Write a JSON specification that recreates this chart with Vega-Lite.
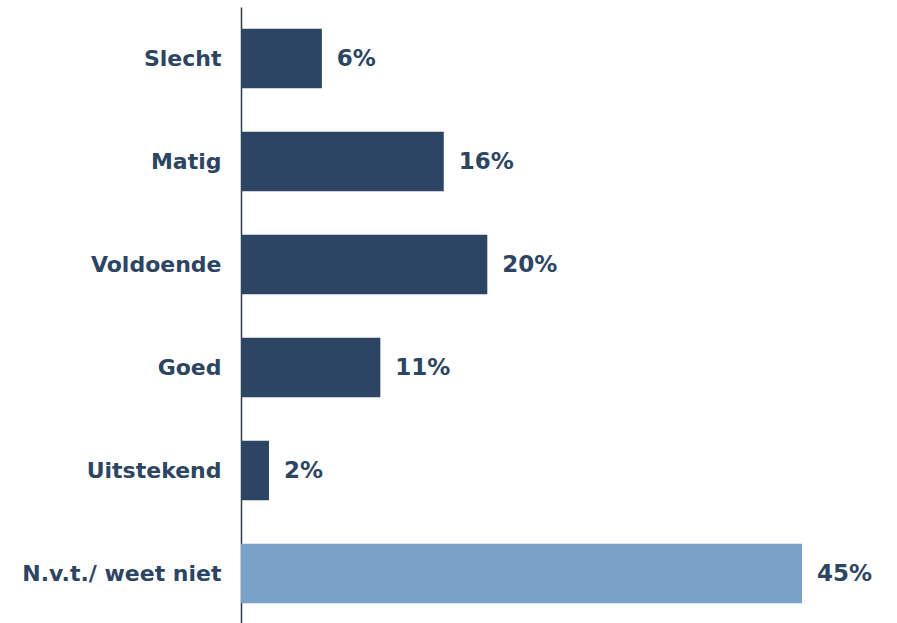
{
  "$schema": "https://vega.github.io/schema/vega-lite/v6.json",
  "autosize": "none",
  "width": 622,
  "height": 618,
  "padding": {"left": 241, "top": 7, "right": 34, "bottom": 0},
  "background": "white",
  "config": {"view": {"stroke": null}, "font": "DejaVu Sans"},
  "data": {
    "values": [
      {"cat": "Slecht", "value": 6.5, "label": "6%", "group": "a"},
      {"cat": "Matig", "value": 16.3, "label": "16%", "group": "a"},
      {"cat": "Voldoende", "value": 19.8, "label": "20%", "group": "a"},
      {"cat": "Goed", "value": 11.2, "label": "11%", "group": "a"},
      {"cat": "Uitstekend", "value": 2.25, "label": "2%", "group": "a"},
      {"cat": "N.v.t./ weet niet", "value": 45.1, "label": "45%", "group": "b"}
    ]
  },
  "encoding": {
    "y": {
      "field": "cat",
      "type": "nominal",
      "sort": null,
      "scale": {"paddingInner": 0.42, "paddingOuter": 0.21},
      "axis": {
        "title": null,
        "ticks": false,
        "labelPadding": 20,
        "labelLimit": 0,
        "labelFontSize": 22,
        "labelFontWeight": "bold",
        "labelColor": "#2c4563",
        "domainColor": "#2c3e50",
        "domainWidth": 1.5,
        "grid": false
      }
    },
    "x": {
      "field": "value",
      "type": "quantitative",
      "scale": {"domain": [0, 50]},
      "axis": null
    }
  },
  "layer": [
    {
      "mark": {"type": "bar"},
      "encoding": {
        "color": {
          "field": "group",
          "type": "nominal",
          "scale": {"domain": ["a", "b"], "range": ["#2c4563", "#7aa1c8"]},
          "legend": null
        }
      }
    },
    {
      "mark": {"type": "text", "align": "left", "baseline": "middle", "dx": 15, "fontSize": 23, "fontWeight": "bold", "color": "#2c4563"},
      "encoding": {"text": {"field": "label"}}
    }
  ]
}
